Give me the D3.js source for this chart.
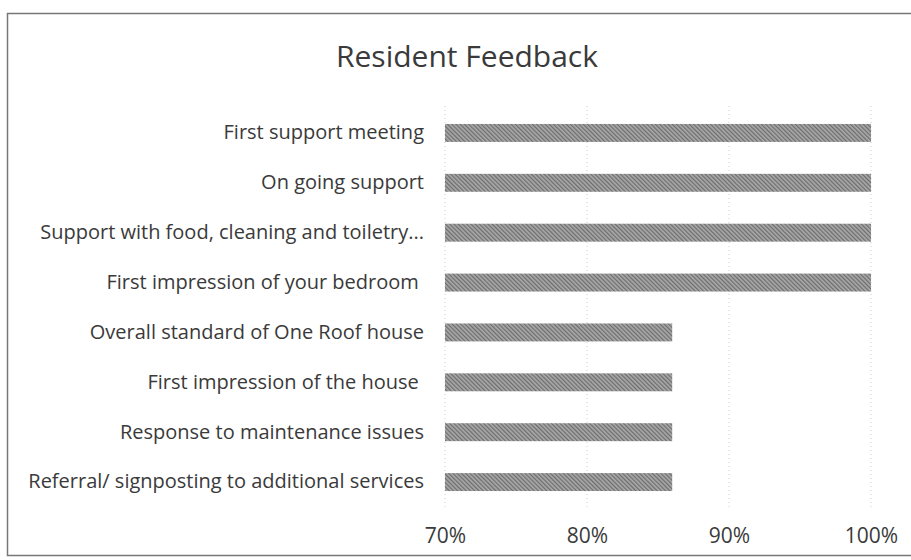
<!DOCTYPE html>
<html>
<head>
<meta charset="utf-8">
<title>Resident Feedback</title>
<script src="https://cdn.jsdelivr.net/npm/d3@7"></script>
<style>
  body { margin: 0; background: #fff; }
  svg text { font-family: "Open Sans", Lato, sans-serif; fill: #3a3a3a; }
  .cat text { white-space: pre; }
</style>
</head>
<body>
<script>

  var categories = [
    "First support meeting",
    "On going support",
    "Support with food, cleaning and toiletry...",
    "First impression of your bedroom ",
    "Overall standard of One Roof house",
    "First impression of the house ",
    "Response to maintenance issues",
    "Referral/ signposting to additional services"
  ];
  var values = [1.0, 1.0, 1.0, 1.0, 0.86, 0.86, 0.86, 0.86];
  var tickValues = [0.7, 0.8, 0.9, 1.0];

  var width = 911, height = 560;

  var svg = d3.select("body").append("svg")
    .attr("width", width)
    .attr("height", height);

  // hatched bar fill
  var pat = svg.append("defs").append("pattern")
    .attr("id", "hatch")
    .attr("patternUnits", "userSpaceOnUse")
    .attr("width", 3).attr("height", 3)
    .attr("patternTransform", "rotate(-45)");
  pat.append("rect").attr("width", 3).attr("height", 3).attr("fill", "#a8a8a8");
  pat.append("rect").attr("width", 1.2).attr("height", 3).attr("fill", "#6c6c6c");

  // chart frame
  svg.append("rect")
    .attr("x", 7.5).attr("y", 13.5)
    .attr("width", 920).attr("height", 542)
    .attr("fill", "none")
    .attr("stroke", "#777")
    .attr("stroke-width", 1.5);

  svg.append("text")
    .attr("x", 467).attr("y", 67)
    .attr("text-anchor", "middle")
    .style("font-size", "30px")
    .attr("fill", "#404040")
    .text("Resident Feedback");

  var x = d3.scaleLinear().domain([0.7, 1.0]).range([445, 871]);
  var y = d3.scaleBand().domain(categories).range([108, 507]).paddingInner(0.64).paddingOuter(0.32);

  // dotted gridlines
  svg.append("g")
    .selectAll("line")
    .data(tickValues)
    .enter().append("line")
    .attr("x1", d => x(d)).attr("x2", d => x(d))
    .attr("y1", 106).attr("y2", 509)
    .attr("stroke", "#d0d0d0")
    .attr("stroke-dasharray", "1,3");

  svg.append("g")
    .selectAll("rect")
    .data(values)
    .enter().append("rect")
    .attr("x", x(0.7))
    .attr("y", (d, i) => y(categories[i]))
    .attr("width", d => x(d) - x(0.7))
    .attr("height", y.bandwidth())
    .attr("fill", "url(#hatch)");

  var xAxis = svg.append("g")
    .attr("transform", "translate(0,520)")
    .call(d3.axisBottom(x).tickValues(tickValues).tickFormat(d3.format(".0%")).tickSize(0).tickPadding(8));
  xAxis.select(".domain").remove();
  xAxis.selectAll("text").style("font-size", "21px").attr("fill", "#3a3a3a");

  var yAxis = svg.append("g")
    .attr("class", "cat")
    .attr("transform", "translate(436,0)")
    .call(d3.axisLeft(y).tickSize(0).tickPadding(12));
  yAxis.select(".domain").remove();
  yAxis.selectAll("text").style("font-size", "20px").attr("fill", "#3a3a3a");

</script>
</body>
</html>
